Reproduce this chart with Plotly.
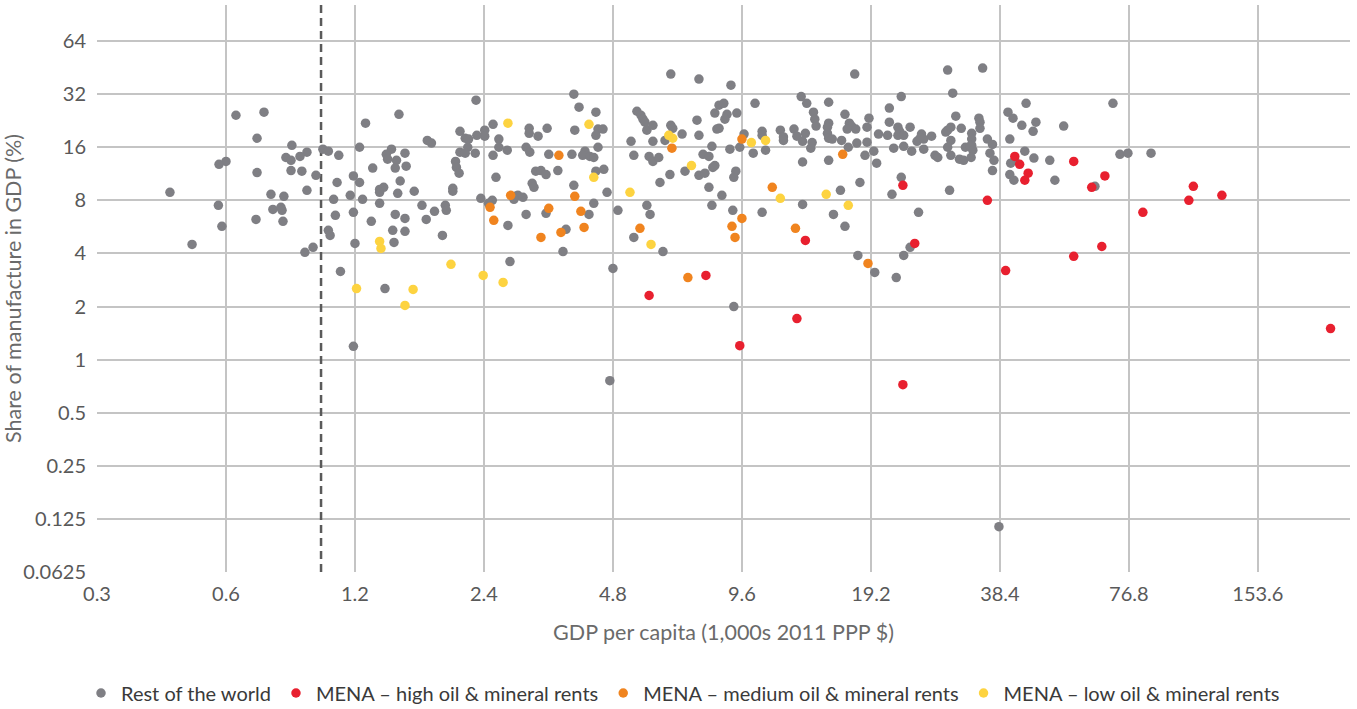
import plotly.graph_objects as go
import math

# ---- data (GDP per capita in 1,000s 2011 PPP $, share of manufacture in GDP %) ----
row_x = [0.633, 0.736, 0.709, 0.855, 1.01, 1.04, 1.10, 0.927, 0.893, 0.828, 0.851, 0.60, 0.578,
         0.709, 0.851, 0.902, 0.973, 1.19, 1.23, 1.09, 0.927, 0.444, 0.764, 0.819, 1.17, 1.07,
         0.576, 0.772, 0.806, 0.811, 1.19, 1.08, 0.705, 0.815, 0.587, 1.04, 1.05, 1.20, 0.500,
         0.958, 0.917, 1.11,
         3.89, 2.30, 4.00, 1.52, 4.38, 1.27, 2.52, 3.06, 3.06, 3.37, 3.91, 4.43, 2.11, 2.41, 2.41,
         2.31, 2.17, 2.21, 2.60, 3.21, 4.38, 1.77, 1.81, 1.23, 1.46, 2.20, 2.11, 2.17, 2.60, 2.72,
         3.01, 3.07, 4.43, 1.42, 1.43, 1.57, 1.50, 2.29, 2.52, 3.40, 3.85, 4.13, 4.08, 4.24, 4.33,
         2.06, 2.07, 2.10, 1.49, 1.58, 1.32, 3.17, 3.26, 3.35, 3.57, 4.38, 2.56, 1.53, 1.37, 1.40,
         1.37, 2.03, 2.03, 1.65, 3.11, 3.14, 3.89, 1.51, 1.25, 2.36, 2.84, 2.88, 2.96, 2.82, 2.51,
         2.46, 4.33, 1.37, 1.72, 1.95, 1.96, 1.49, 1.57, 1.84, 1.76, 1.31, 3.01, 3.35, 4.22, 2.73,
         3.73, 1.47, 1.57, 1.92, 1.48, 3.67, 2.76, 1.41,
         6.55, 7.62, 9.05, 5.46, 5.58, 5.64, 5.70, 5.76, 5.95, 6.55, 6.62, 6.96, 7.54, 7.62, 8.30,
         8.49, 8.71, 8.86, 8.76, 8.39, 8.49, 9.34, 10.3, 9.71, 9.49, 10.2, 9.00, 8.17, 7.79, 8.04,
         5.29, 5.95, 6.35, 5.37, 5.83, 5.95, 6.14, 4.55, 4.57, 7.07, 6.52, 7.62, 7.87, 8.30, 8.21,
         9.29, 9.19, 6.18, 8.04, 8.62, 4.65, 4.93, 5.76, 5.86, 8.17, 9.14, 5.37, 6.28, 4.80, 9.19,
         17.6, 13.2, 13.6, 15.3, 22.6, 14.1, 16.7, 21.2, 19.0, 21.2, 14.2, 14.3, 15.3, 15.2, 15.2,
         15.3, 17.1, 17.3, 16.9, 17.7, 18.8, 22.2, 22.4, 22.2, 22.9, 23.7, 20.0, 21.0, 10.7, 10.7,
         11.8, 12.7, 13.5, 12.0, 12.0, 12.9, 13.3, 14.0, 13.9, 15.6, 16.4, 17.8, 17.0, 18.8, 19.5,
         18.6, 19.8, 21.7, 22.9, 23.9, 24.6, 10.9, 13.3, 15.3, 18.1, 22.6, 21.5, 16.3, 13.3, 10.7,
         15.7, 16.7, 24.8, 23.7, 22.9, 17.9, 19.6, 22.0,
         29.0, 35.0, 29.8, 44.2, 40.1, 41.2, 46.6, 43.2, 45.9, 54.1, 30.3, 34.3, 34.5, 34.5, 31.2,
         29.0, 28.7, 29.5, 33.0, 33.0, 33.0, 25.2, 25.0, 26.6, 25.5, 29.5, 29.0, 25.5, 27.1, 27.5,
         29.5, 31.9, 32.7, 33.2, 30.9, 31.6, 32.9, 35.9, 36.9, 36.4, 37.2, 36.9, 40.5, 43.9, 46.1,
         40.7, 41.6, 40.5, 41.4, 50.2, 51.6, 29.3,
         70.5, 73.2, 76.4, 86.5, 64.0,
         1.19, 4.72, 38.2]
row_y = [24.3, 25.3, 18.0, 16.4, 15.6, 15.2, 14.4, 15.0, 14.2, 14.0, 13.5, 13.3, 12.8,
         11.5, 11.8, 11.7, 11.1, 11.0, 10.1, 10.1, 9.12, 8.88, 8.66, 8.43, 8.54, 8.11,
         7.50, 7.11, 7.30, 7.02, 6.84, 6.58, 6.24, 6.08, 5.70, 5.41, 5.06, 4.56, 4.50,
         4.33, 4.06, 3.16,
         32.0, 29.6, 27.0, 24.6, 25.3, 21.9, 21.6, 20.5, 19.2, 20.5, 20.0, 20.3, 19.7, 20.0, 18.5,
         18.7, 18.0, 17.8, 17.8, 18.5, 18.7, 17.5, 16.9, 16.0, 15.6, 16.0, 15.0, 14.8, 16.0, 15.4,
         16.0, 15.0, 16.0, 14.6, 13.7, 14.8, 13.5, 14.8, 14.4, 14.6, 14.6, 15.2, 14.4, 14.2, 14.0,
         13.3, 12.3, 11.4, 12.2, 12.5, 12.2, 11.7, 11.8, 11.2, 11.8, 11.7, 10.8, 10.3, 9.23, 9.49,
         8.88, 9.36, 9.01, 9.01, 10.0, 9.49, 9.74, 8.77, 8.11, 8.21, 8.43, 8.54, 8.32, 8.11, 8.00,
         7.70, 7.70, 7.70, 7.50, 7.50, 7.02, 6.66, 6.32, 6.93, 6.24, 6.08, 6.66, 6.75, 6.66, 5.77,
         5.48, 5.41, 5.34, 5.06, 4.62, 4.10, 3.60, 2.53,
         41.6, 39.0, 36.0, 25.6, 24.3, 23.1, 22.2, 20.0, 21.3, 21.3, 20.5, 19.0, 22.8, 18.7, 25.0,
         27.7, 28.4, 24.6, 23.1, 20.3, 20.5, 25.0, 28.4, 19.0, 16.0, 14.8, 15.6, 16.2, 14.6, 14.2,
         17.3, 17.3, 17.5, 14.4, 14.2, 13.3, 14.0, 20.3, 12.0, 11.7, 11.2, 11.1, 11.4, 12.6, 12.3,
         11.7, 10.8, 10.1, 9.49, 8.54, 8.88, 7.02, 7.50, 6.66, 7.50, 7.02, 4.93, 4.10, 3.29, 2.00,
         41.6, 31.0, 28.4, 28.8, 31.0, 25.3, 24.6, 26.7, 23.4, 22.2, 23.1, 21.1, 21.9, 20.8, 19.2,
         18.0, 21.9, 21.1, 20.3, 20.3, 20.8, 20.8, 19.7, 18.7, 18.7, 20.8, 19.0, 18.7, 19.7, 18.7,
         20.0, 20.3, 19.2, 18.3, 17.5, 18.5, 17.3, 17.0, 15.8, 17.8, 17.5, 16.9, 16.0, 17.1, 15.2,
         14.4, 13.0, 15.8, 16.2, 15.2, 17.3, 15.4, 13.2, 13.5, 10.1, 10.8, 8.66, 9.12, 7.59, 6.84,
         6.66, 5.70, 6.84, 4.33, 3.90, 3.90, 3.12, 2.92,
         43.8, 45.0, 32.4, 28.4, 25.3, 23.4, 22.2, 21.3, 19.7, 21.1, 24.0, 23.4, 22.2, 20.5, 20.5,
         20.0, 19.5, 20.8, 19.2, 17.8, 16.4, 19.0, 18.0, 18.5, 17.8, 17.5, 16.0, 15.6, 14.4, 14.0,
         14.4, 16.0, 16.2, 15.4, 13.7, 13.5, 14.0, 17.8, 16.6, 14.8, 13.5, 11.8, 17.8, 15.2, 13.9,
         13.0, 13.5, 11.2, 10.4, 13.5, 10.4, 9.12,
         28.4, 14.6, 14.8, 14.8, 9.61,
         1.19, 0.76, 0.113]

high_x = [5.83, 7.91, 13.5, 12.9, 9.49, 22.8, 24.3, 22.8, 35.9, 39.6, 41.6, 42.7, 44.7, 43.9,
          57.1, 57.1, 62.9, 67.5, 66.4, 82.8, 106.0, 108.6, 126.6, 227.0]
high_y = [2.31, 3.00, 4.74, 1.71, 1.20, 9.74, 4.56, 0.721, 8.00, 3.20, 14.2, 12.8, 11.4, 10.4,
          13.3, 3.85, 9.49, 11.0, 4.38, 6.84, 8.00, 9.61, 8.54, 1.50]

medium_x = [3.59, 2.77, 3.91, 2.48, 3.40, 4.04, 2.53, 4.11, 3.63, 3.26, 6.59, 9.60, 9.60, 9.10,
            9.25, 5.55, 7.18, 16.5, 11.3, 12.8, 18.9]
medium_y = [14.4, 8.54, 8.43, 7.30, 7.21, 6.93, 6.16, 5.62, 5.26, 4.93, 15.8, 17.8, 6.32, 5.70,
            4.93, 5.55, 2.92, 14.6, 9.49, 5.55, 3.51]

low_x = [1.21, 2.73, 4.22, 4.33, 1.37, 1.38, 2.01, 2.39, 2.66, 1.64, 1.57, 6.48, 6.62, 7.32,
         5.26, 5.89, 10.1, 10.9, 11.8, 15.1, 17.0]
low_y = [2.53, 21.9, 21.6, 10.8, 4.68, 4.27, 3.47, 3.00, 2.74, 2.50, 2.03, 18.7, 18.0, 12.6,
         8.88, 4.50, 17.0, 17.5, 8.21, 8.66, 7.50]

threshold_x = 1.0

x_ticks = [0.3, 0.6, 1.2, 2.4, 4.8, 9.6, 19.2, 38.4, 76.8, 153.6]
x_tick_text = ["0.3", "0.6", "1.2", "2.4", "4.8", "9.6", "19.2", "38.4", "76.8", "153.6"]
y_ticks = [0.0625, 0.125, 0.25, 0.5, 1, 2, 4, 8, 16, 32, 64]
y_tick_text = ["0.0625", "0.125", "0.25", "0.5", "1", "2", "4", "8", "16", "32", "64"]

x_range = [0.3, 252.0]
y_range = [0.0625, 102.5]

series = [
    ("Rest of the world", row_x, row_y, "#7f7f84"),
    ("MENA – high oil & mineral rents", high_x, high_y, "#e8202f"),
    ("MENA – medium oil & mineral rents", medium_x, medium_y, "#f0841f"),
    ("MENA – low oil & mineral rents", low_x, low_y, "#fdd340"),
]

FONT = "Lato, 'Open Sans', sans-serif"

fig = go.Figure()

fig.add_trace(go.Scatter(
    x=[threshold_x, threshold_x], y=y_range, mode="lines",
    line=dict(color="#5a5a5a", width=2.5, dash="8px,5px"),
    showlegend=False, hoverinfo="skip", cliponaxis=False,
))

for name, xs, ys, col in series:
    fig.add_trace(go.Scatter(
        x=xs, y=ys, mode="markers", name=name,
        marker=dict(color=col, size=9.5, line=dict(width=0)),
    ))

fig.update_layout(
    width=1357, height=709,
    margin=dict(l=97, r=7, t=5, b=137, autoexpand=False),
    paper_bgcolor="white", plot_bgcolor="white",
    font=dict(family=FONT, color="#595959", size=18),
    showlegend=True,
    legend=dict(
        orientation="h", xref="container", yref="container",
        x=81 / 1357, xanchor="left", y=16 / 709, yanchor="middle",
        font=dict(family=FONT, size=20, color="#3a3a3a"),
        itemwidth=30, tracegroupgap=0, bgcolor="rgba(0,0,0,0)",
    ),
)

fig.update_xaxes(
    type="log", automargin=False,
    range=[math.log10(x_range[0]), math.log10(x_range[1])],
    tickmode="array", tickvals=x_ticks, ticktext=x_tick_text,
    showgrid=True, gridcolor="#c4c4c4", gridwidth=1.5,
    showline=False, zeroline=False, ticks="", ticklabelstandoff=8,
    tickfont=dict(size=20, color="#595959"),
    title=dict(text="GDP per capita (1,000s 2011 PPP $)", font=dict(size=21.5, color="#6a6a6a"), standoff=20),
)
fig.update_yaxes(
    type="log", automargin=False,
    range=[math.log10(y_range[0]), math.log10(y_range[1])],
    tickmode="array", tickvals=y_ticks, ticktext=y_tick_text,
    showgrid=True, gridcolor="#c4c4c4", gridwidth=1.5,
    showline=False, zeroline=False, ticks="", ticklabelstandoff=10,
    tickfont=dict(size=20, color="#595959"),
    title=dict(text="Share of manufacture in GDP (%)", font=dict(size=21.5, color="#6a6a6a"), standoff=0),
)

fig.write_html("out.html")
